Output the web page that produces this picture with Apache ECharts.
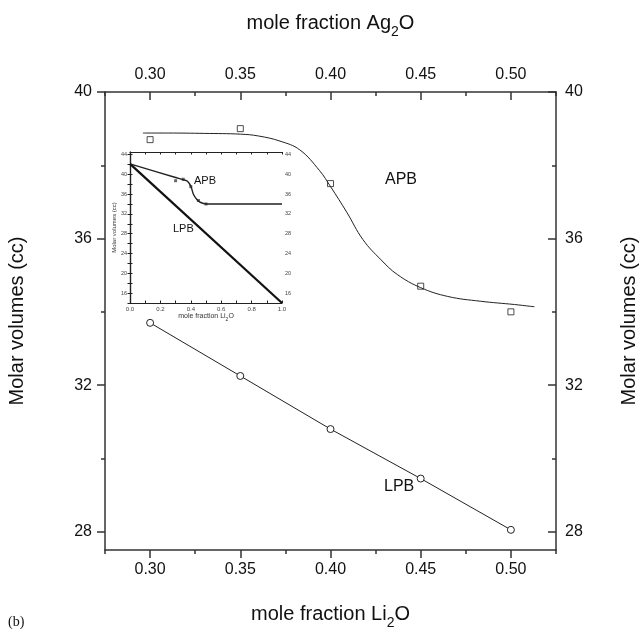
<!DOCTYPE html>
<html><head><meta charset="utf-8">
<script src="https://cdn.jsdelivr.net/npm/echarts@6/dist/echarts.min.js"></script>
<style>html,body{margin:0;padding:0;background:#fff}#c{width:639px;height:630px}</style>
</head><body><div id="c"></div>
<script>
// ---- data ----
const xMajor = [0.30, 0.35, 0.40, 0.45, 0.50];
const xMinor = [0.275, 0.30, 0.325, 0.35, 0.375, 0.40, 0.425, 0.45, 0.475, 0.50, 0.525];
const yMajor = [28, 32, 36, 40];
const yMinor = [28, 30, 32, 34, 36, 38, 40];
const lpbX = [0.30, 0.35, 0.40, 0.45, 0.50];
const lpbY = [33.7, 32.25, 30.8, 29.45, 28.05];
const apbX = [0.30, 0.35, 0.40, 0.45, 0.50];
const apbY = [38.7, 39.0, 37.5, 34.7, 34.0];
const apbFitX = [0.296, 0.31, 0.33, 0.35, 0.36, 0.372, 0.383, 0.394, 0.40, 0.409, 0.418, 0.428, 0.437, 0.45, 0.465, 0.483, 0.502, 0.511, 0.513];
const apbFitY = [38.88, 38.88, 38.87, 38.85, 38.8, 38.66, 38.42, 37.85, 37.42, 36.72, 35.97, 35.42, 35.02, 34.66, 34.42, 34.29, 34.2, 34.15, 34.14];
const insetLpbX = [0, 1];
const insetLpbY = [42.1, 14];
const insetApbX = [0, 0.30, 0.35, 0.378, 0.40, 0.418, 0.44, 0.462, 0.50, 1.0];
const insetApbY = [42.1, 39.35, 38.9, 38.6, 37.6, 35.9, 34.9, 34.35, 34.0, 34.0];

const zip = (a, b) => a.map((v, i) => [v, b[i]]);
const FONT = "'Liberation Sans', Arial, sans-serif";
const AX = '#333';
const subName = (base, el) => '{m|' + base + '}{s|2}{m|' + el + '}';
const richSub = (fs, lh, sfs, drop, color) => ({
  m: { fontSize: fs, lineHeight: lh, verticalAlign: 'top', fontFamily: FONT, color },
  s: { fontSize: sfs, lineHeight: sfs, padding: [drop, 0, 0, 0], verticalAlign: 'top', fontFamily: FONT, color }
});

const chart = echarts.init(document.getElementById('c'), null, { renderer: 'canvas' });

const mainX = { gridIndex: 0, type: 'value', min: 0.275, max: 0.525, splitLine: { show: false } };
const mainY = { gridIndex: 0, type: 'value', min: 27.5, max: 40, splitLine: { show: false } };
const lineStyle = { color: AX, width: 1.5 };
const lbl = { fontSize: 16, color: '#111', fontFamily: FONT };

const option = {
  animation: false,
  backgroundColor: '#fff',
  grid: [
    { left: 105, right: 83, top: 92, bottom: 80, outerBoundsMode: 'none', containLabel: false },
    { left: 130, top: 152, width: 152, height: 151, show: true, backgroundColor: '#fff', borderWidth: 0, outerBoundsMode: 'none', containLabel: false }
  ],
  xAxis: [
    Object.assign({}, mainX, {
      position: 'bottom', axisLine: { show: true, lineStyle },
      axisTick: { show: true, inside: false, length: 4, customValues: xMinor, lineStyle },
      axisLabel: Object.assign({}, lbl, { margin: 12, customValues: xMajor, formatter: v => v.toFixed(2) }),
      name: subName('mole fraction Li', 'O'), nameLocation: 'middle', nameGap: 54,
      nameTextStyle: { rich: richSub(20, 22, 14, 12, '#111') }
    }),
    Object.assign({}, mainX, {
      position: 'bottom', axisLine: { show: false },
      axisTick: { show: true, inside: false, length: 8, customValues: xMajor, lineStyle },
      axisLabel: { show: false }
    }),
    Object.assign({}, mainX, {
      position: 'top', axisLine: { show: true, lineStyle },
      axisTick: { show: true, inside: true, length: 4, customValues: xMinor, lineStyle },
      axisLabel: Object.assign({}, lbl, { margin: 9, customValues: xMajor, formatter: v => v.toFixed(2) }),
      name: subName('mole fraction Ag', 'O'), nameLocation: 'middle', nameGap: 57,
      nameTextStyle: { rich: richSub(20, 22, 14, 12, '#111') }
    }),
    Object.assign({}, mainX, {
      position: 'top', axisLine: { show: false },
      axisTick: { show: true, inside: true, length: 8, customValues: xMajor, lineStyle },
      axisLabel: { show: false }
    }),
    {
      gridIndex: 1, type: 'value', min: 0, max: 1, interval: 0.1, position: 'bottom',
      splitLine: { show: false },
      axisLine: { show: true, lineStyle: { color: '#222', width: 1.2 } },
      axisTick: { show: true, inside: true, length: 2.5, lineStyle: { color: '#222' } },
      axisLabel: { fontSize: 6, color: '#444', fontFamily: FONT, margin: 3, showMaxLabel: true, showMinLabel: true,
        formatter: v => (Math.round(v * 10) % 2 === 0 ? v.toFixed(1) : '') },
      name: subName('mole fraction Li', 'O'), nameLocation: 'middle', nameGap: 9,
      nameTextStyle: { rich: richSub(7, 8, 5, 4, '#333') }
    },
    {
      gridIndex: 1, type: 'value', min: 0, max: 1, interval: 0.1, position: 'top',
      splitLine: { show: false },
      axisLine: { show: true, lineStyle: { color: '#222', width: 1.2 } },
      axisTick: { show: true, inside: true, length: 2.5, lineStyle: { color: '#222' } },
      axisLabel: { show: false }
    }
  ],
  yAxis: [
    Object.assign({}, mainY, {
      position: 'left', axisLine: { show: true, lineStyle },
      axisTick: { show: true, inside: false, length: 8, customValues: yMajor, lineStyle },
      axisLabel: Object.assign({}, lbl, { margin: 13, customValues: yMajor }),
      name: 'Molar volumes (cc)', nameLocation: 'middle', nameGap: 76, nameRotate: 90,
      nameTextStyle: { fontSize: 20, color: '#111', fontFamily: FONT, lineHeight: 24 }
    }),
    Object.assign({}, mainY, {
      position: 'left', axisLine: { show: false },
      axisTick: { show: true, inside: false, length: 4, customValues: yMinor, lineStyle },
      axisLabel: { show: false }
    }),
    Object.assign({}, mainY, {
      position: 'right', axisLine: { show: true, lineStyle },
      axisTick: { show: true, inside: true, length: 8, customValues: yMajor, lineStyle },
      axisLabel: Object.assign({}, lbl, { margin: 9, customValues: yMajor }),
      name: 'Molar volumes (cc)', nameLocation: 'middle', nameGap: 61, nameRotate: 90,
      nameTextStyle: { fontSize: 20, color: '#111', fontFamily: FONT, lineHeight: 24 }
    }),
    Object.assign({}, mainY, {
      position: 'right', axisLine: { show: false },
      axisTick: { show: true, inside: true, length: 4, customValues: yMinor, lineStyle },
      axisLabel: { show: false }
    }),
    {
      gridIndex: 1, type: 'value', min: 14, max: 44.5, interval: 2, position: 'left',
      splitLine: { show: false },
      axisLine: { show: true, lineStyle: { color: '#222', width: 1.2 } },
      axisTick: { show: true, inside: false, length: 2.5, lineStyle: { color: '#222' } },
      axisLabel: { fontSize: 5.5, color: '#444', fontFamily: FONT, margin: 3, showMaxLabel: false,
        formatter: v => (v % 4 === 0 && v >= 16 && v <= 44 ? String(v) : '') },
      name: 'Molar volumes (cc)', nameLocation: 'middle', nameGap: 12, nameRotate: 90,
      nameTextStyle: { fontSize: 6, color: '#333', fontFamily: FONT }
    },
    {
      gridIndex: 1, type: 'value', min: 14, max: 44.5, interval: 2, position: 'right',
      splitLine: { show: false },
      axisLine: { show: true, lineStyle: { color: '#222', width: 1.2 } },
      axisTick: { show: true, inside: false, length: 2.5, lineStyle: { color: '#222' } },
      axisLabel: { fontSize: 5.5, color: '#444', fontFamily: FONT, margin: 3, showMaxLabel: false,
        formatter: v => (v % 4 === 0 && v >= 16 && v <= 44 ? String(v) : '') }
    }
  ],
  series: [
    {
      name: 'APB fit', type: 'line', xAxisIndex: 0, yAxisIndex: 0, data: zip(apbFitX, apbFitY),
      smooth: 0.4, showSymbol: false, lineStyle: { color: '#222', width: 1 }
    },
    {
      name: 'APB', type: 'scatter', xAxisIndex: 0, yAxisIndex: 0, data: zip(apbX, apbY),
      symbol: 'rect', symbolSize: 6, itemStyle: { color: '#fff', borderColor: '#222', borderWidth: 1 }
    },
    {
      name: 'LPB', type: 'line', xAxisIndex: 0, yAxisIndex: 0, data: zip(lpbX, lpbY),
      symbol: 'circle', symbolSize: 7, lineStyle: { color: '#222', width: 1 },
      itemStyle: { color: '#fff', borderColor: '#222', borderWidth: 1 }
    },
    {
      name: 'inset LPB', type: 'line', xAxisIndex: 4, yAxisIndex: 4, data: zip(insetLpbX, insetLpbY),
      showSymbol: false, lineStyle: { color: '#111', width: 2.2 }
    },
    {
      name: 'inset APB', type: 'line', xAxisIndex: 4, yAxisIndex: 4, data: zip(insetApbX, insetApbY),
      smooth: 0.3, showSymbol: false, lineStyle: { color: '#222', width: 1.4 }
    },
    {
      name: 'inset APB pts', type: 'scatter', xAxisIndex: 4, yAxisIndex: 4, data: zip(apbX, apbY),
      symbol: 'rect', symbolSize: 3, itemStyle: { color: '#444' }
    }
  ],
  graphic: [
    { type: 'text', left: 385, top: 172, style: { text: 'APB', fontSize: 16, fill: '#111', fontFamily: FONT } },
    { type: 'text', left: 384, top: 479, style: { text: 'LPB', fontSize: 16, fill: '#111', fontFamily: FONT } },
    { type: 'text', left: 194, top: 175, style: { text: 'APB', fontSize: 11, fill: '#111', fontFamily: FONT } },
    { type: 'text', left: 173, top: 223, style: { text: 'LPB', fontSize: 11, fill: '#111', fontFamily: FONT } },
    { type: 'text', left: 8, top: 615, style: { text: '(b)', fontSize: 14, fill: '#111', fontFamily: "'Liberation Serif', 'Times New Roman', serif" } }
  ]
};
chart.setOption(option);
</script>
</body></html>
